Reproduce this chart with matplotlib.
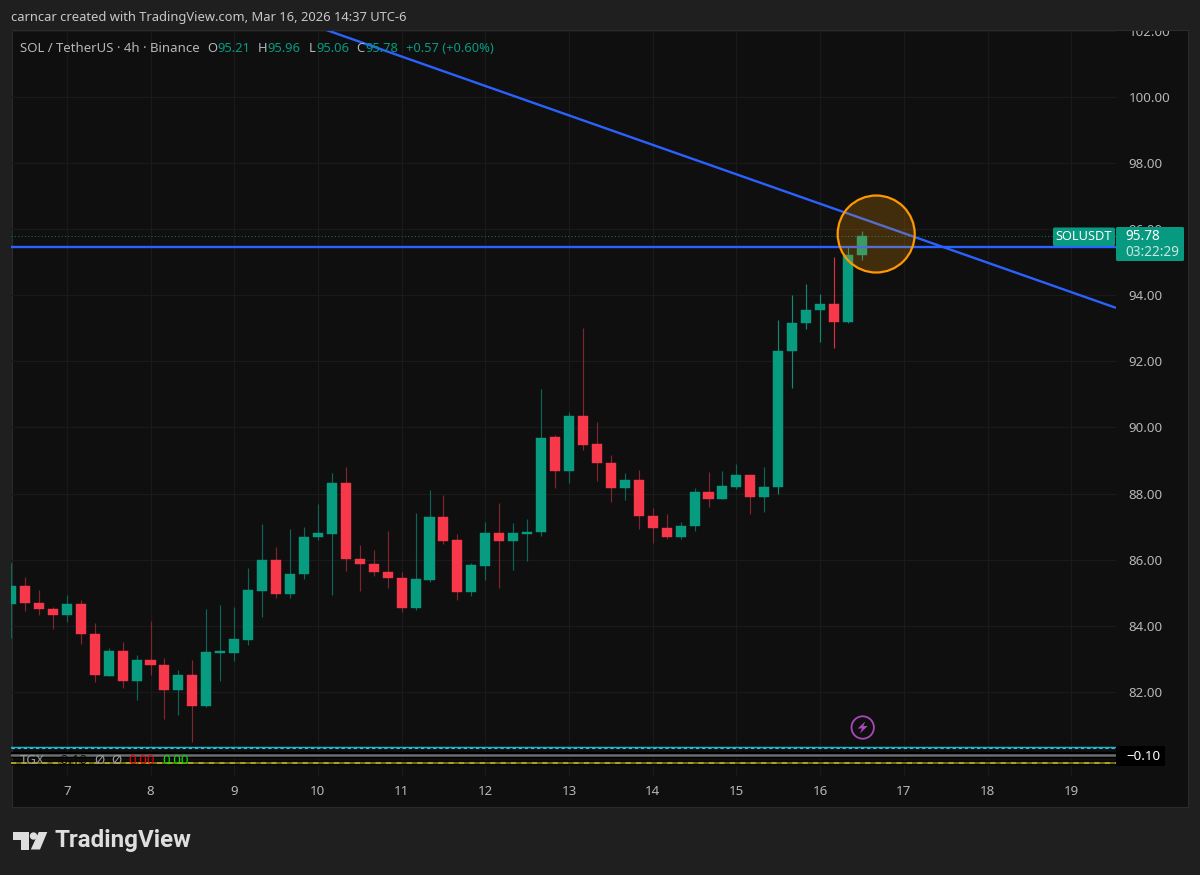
import matplotlib
matplotlib.use("Agg")
import matplotlib.pyplot as plt
from matplotlib.patches import Rectangle, Ellipse, Polygon, Circle, FancyBboxPatch

opens  = [84.66,85.20,84.69,84.51,84.33,84.66,83.75,82.48,83.24,82.33,82.96,82.81,82.06,82.51,81.57,83.18,83.18,83.57,85.05,85.99,84.96,85.57,86.69,86.78,88.32,86.02,85.87,85.63,85.45,84.54,85.38,87.29,86.59,85.02,85.81,86.81,86.56,86.78,86.84,89.71,88.68,90.35,89.50,88.92,88.17,88.41,87.32,86.96,86.69,87.02,88.05,87.84,88.20,88.56,87.90,88.20,92.31,93.16,93.55,93.74,93.19,95.21]
highs  = [85.90,85.48,85.08,84.57,84.93,84.78,84.08,83.33,83.51,83.12,84.14,83.02,82.66,82.96,84.51,84.63,84.57,85.75,87.08,86.38,86.93,86.99,87.68,88.62,88.80,86.44,86.29,86.87,85.63,87.41,88.11,87.96,86.78,85.90,87.14,87.71,87.11,87.23,91.16,89.77,90.47,93.01,90.17,89.17,88.62,88.71,87.56,87.38,87.14,88.17,88.65,88.68,88.89,88.59,88.80,93.25,94.01,94.34,94.04,95.16,95.46,95.96]
lows   = [83.63,84.45,84.33,83.90,84.11,83.45,82.30,82.48,82.12,81.75,82.51,81.18,81.30,80.48,81.54,82.33,82.93,83.42,84.26,84.84,84.84,85.41,86.59,84.93,85.66,85.05,85.51,85.14,84.42,84.48,85.32,86.47,84.78,84.90,85.38,85.14,85.69,85.96,86.72,88.17,88.32,89.32,88.38,87.74,87.81,86.93,86.50,86.62,86.62,86.87,87.59,87.84,88.14,87.38,87.44,87.99,91.19,92.98,92.59,92.40,93.16,95.06]
closes = [85.20,84.69,84.51,84.33,84.66,83.75,82.51,83.24,82.33,82.96,82.81,82.06,82.51,81.57,83.21,83.22,83.60,85.08,85.99,84.96,85.57,86.69,86.81,88.32,86.02,85.87,85.63,85.45,84.54,85.41,87.29,86.56,85.02,85.84,86.81,86.56,86.81,86.84,89.68,88.68,90.35,89.47,88.92,88.17,88.41,87.32,86.96,86.69,87.02,88.05,87.84,88.23,88.56,87.90,88.20,92.31,93.16,93.55,93.74,93.19,95.21,95.78]
first_day = 6 + 2 / 6
bars_per_day = 6
day_ticks = list(range(7, 20))
price_ticks = [82, 84, 86, 88, 90, 92, 94, 96, 98, 100, 102]
support_level = 95.46
last_price = 95.78
trend_x = [10.10, 19.535]
trend_y = [102.03, 93.62]
circle_center = (16.67, 95.855)
indicator_levels = {"cyan": 9.85, "cyan_dash": 8.57, "gray": 3.23, "yellow": -2.9}

W, H = 1200, 875
BG, PANE = "#1f1f1f", "#0f0f0f"
GRID = "#1a1a1a"
GREEN, RED = "#079C80", "#F7374A"
BLUE = "#2962ff"
TXT = "#b4b6bb"
plt.rcParams["font.family"] = ["Noto Sans", "DejaVu Sans"]

fig = plt.figure(figsize=(12, 8.75), dpi=100, facecolor=BG)

def px_axes(x0, y0, x1, y1, **kw):
    return fig.add_axes([x0 / W, 1 - y1 / H, (x1 - x0) / W, (y1 - y0) / H], **kw)

bgx = px_axes(11.5, 30, 1188, 807)
bgx.set_facecolor(PANE)
bgx.set_xticks([]); bgx.set_yticks([])
for s in bgx.spines.values():
    s.set_color("#2b2b2b"); s.set_linewidth(0.8)

days = [first_day + i / bars_per_day for i in range(len(opens))]
XL = (first_day, 19.535)

ax = px_axes(11.0, 30, 1116, 743)
ax.set_facecolor("none")
ax.set_xlim(*XL)
ax.set_ylim(80.45, 102.03)
for s in ax.spines.values():
    s.set_visible(False)
ax.set_xticks(day_ticks)
ax.set_yticks(price_ticks)
ax.set_yticklabels([f"{p:.2f}" for p in price_ticks])
ax.yaxis.tick_right()
ax.tick_params(axis="y", length=0, pad=9, labelsize=9.6, labelcolor=TXT)
ax.tick_params(axis="x", length=0, labelbottom=False)
ax.grid(True, color=GRID, lw=0.9)
ax.set_axisbelow(True)

wick_cols = []
for i, (o, c) in enumerate(zip(opens, closes)):
    up = c >= o
    if i >= 55:
        wick_cols.append("#0c8a74" if up else "#d8303f")
    else:
        wick_cols.append("#0d6557" if up else "#80262f")
ax.vlines(days, lows, highs, colors=wick_cols, lw=0.85, zorder=3)
ax.bar(days, [abs(c - o) for o, c in zip(opens, closes)],
       bottom=[min(o, c) for o, c in zip(opens, closes)], width=0.12,
       color=[GREEN if c >= o else RED for o, c in zip(opens, closes)],
       edgecolor=[GREEN if c >= o else RED for o, c in zip(opens, closes)],
       lw=0.3, zorder=4)

ax.axhline(last_price, color="#0c6f5e", lw=0.8, ls=(0, (1, 2)), zorder=2)
ax.plot(trend_x, trend_y, color=BLUE, lw=1.7, zorder=5, solid_capstyle="butt")
ax.axhline(support_level, color=BLUE, lw=1.7, zorder=5)
ax.add_patch(Ellipse(circle_center, 77 / 83.65, 77 * 0.03026, facecolor=(1, 0.6, 0, 0.21),
                     edgecolor="none", zorder=6))
ax.add_patch(Ellipse(circle_center, 77 / 83.65, 77 * 0.03026, facecolor="none",
                     edgecolor="#ff9800", lw=1.6, zorder=7))

ip = px_axes(11.0, 744, 1116, 776)
ip.set_facecolor("none")
ip.set_xlim(*XL)
ip.set_ylim(-13.5, 12)
for s in ip.spines.values():
    s.set_visible(False)
ip.set_xticks(day_ticks)
ip.set_yticks([])
ip.tick_params(axis="x", length=0, pad=6.8, labelsize=9.6, labelcolor=TXT)
ip.grid(True, axis="x", color=GRID, lw=0.9)
ip.set_axisbelow(True)
L = indicator_levels
ip.axhline(L["cyan"], color="#14b8c8", lw=1.0)
ip.axhline(L["cyan_dash"], color="#4fb3d9", lw=0.8, ls=(0, (3, 2.5)))
ip.axhline(L["gray"], color="#000000", lw=4.5)
ip.axhline(L["gray"], color="#6c6c6c", lw=1.8)
ip.axhline(L["yellow"], color="#000000", lw=3.2)
ip.axhline(L["yellow"], color="#6f6a10", lw=1.5)
ip.axhline(L["yellow"], color="#a89f24", lw=1.5, ls=(0, (2.5, 2.5)))

ov = fig.add_axes([0, 0, 1, 1], zorder=20)
ov.set_xlim(0, W); ov.set_ylim(H, 0)
ov.axis("off")
ov.add_patch(Rectangle((0, 0), W, 30, facecolor=BG, edgecolor="none"))
ov.add_patch(Rectangle((11.5, 29.5), 1176.5, 1, facecolor="#2b2b2b", edgecolor="none"))

def t(x, y, s, c=TXT, size=9.6, ha="left", **kw):
    ov.text(x, y, s, color=c, fontsize=size, ha=ha, va="center", **kw)

t(11, 17.5, "carncar created with TradingView.com, Mar 16, 2026 14:37 UTC-6", "#c8c8c8", 9.3, fontweight="medium")
t(20, 48, "SOL / TetherUS · 4h · Binance", TXT, 9.5)
TEAL = "#089981"
for xa, lab, xb, val in [(207.5, "O", 217, "95.21"), (258, "H", 267, "95.96"),
                         (308.5, "L", 316, "95.06"), (356.5, "C", 365, "95.78")]:
    t(xa, 48, lab, TXT, 9.3)
    t(xb, 48, val, TEAL, 9.3)
t(405.5, 48, "+0.57 (+0.60%)", TEAL, 9.3)

ov.add_patch(FancyBboxPatch((1053, 227.5), 62, 18.5, boxstyle="round,pad=0,rounding_size=1.5",
                            facecolor=TEAL, edgecolor="none"))
ov.add_patch(FancyBboxPatch((1116, 227), 68, 34, boxstyle="round,pad=0,rounding_size=1.5",
                            facecolor=TEAL, edgecolor="none"))
t(1055.5, 237, "SOLUSDT", "#ffffff", 9.2, fontweight="medium")
t(1125.5, 236.5, "95.78", "#ffffff", 9.8, fontweight="semibold")
t(1125.5, 252.5, "03:22:29", "#c9e6df", 9.8)

ov.add_patch(Rectangle((1116, 746), 49, 20, facecolor="#000000", edgecolor="none"))
t(1126, 756.5, "\u22120.10", "#ffffff", 9.6, fontweight="semibold")
t(20, 760, "TGX", "#9a9a9a", 9.6)
t(53, 760, "\u22120.10", "#0a0a0a", 9.6)
t(94, 760, "Ø", "#9a9a9a", 9.6)
t(111, 760, "Ø", "#9a9a9a", 9.6)
t(128, 760, "0.00", "#f00000", 9.6)
t(162, 760, "0.00", "#00e600", 9.6)

cx, cy = 862.7, 727.5
ov.add_patch(Circle((cx, cy), 11.2, facecolor="none", edgecolor="#ab47bc", lw=1.3))
bolt = [(2.5, -6), (-5, 1), (-0.7, 1), (-2.8, 6), (5, -1.5), (0.7, -1.5)]
ov.add_patch(Polygon([(cx + a, cy + b) for a, b in bolt], closed=True, facecolor="#ab47bc", edgecolor="none"))

LOGO = "#dedede"
ov.add_patch(Polygon([(13.3, 832), (29.3, 832), (29.3, 849.5), (20.7, 849.5), (20.7, 840), (13.3, 840)],
                     closed=True, facecolor=LOGO, edgecolor="none"))
ov.add_patch(Circle((33.5, 836), 3.7, facecolor=LOGO, edgecolor="none"))
ov.add_patch(Polygon([(38.8, 832), (47.3, 832), (40, 849.5), (30.8, 849.5)],
                     closed=True, facecolor=LOGO, edgecolor="none"))
ov.text(54.5, 841, "TradingView", color=LOGO, fontsize=17.4, ha="left", va="center",
        family=["Roboto", "DejaVu Sans"], fontweight="bold")

fig.savefig("out.png", dpi=100, facecolor=BG)
